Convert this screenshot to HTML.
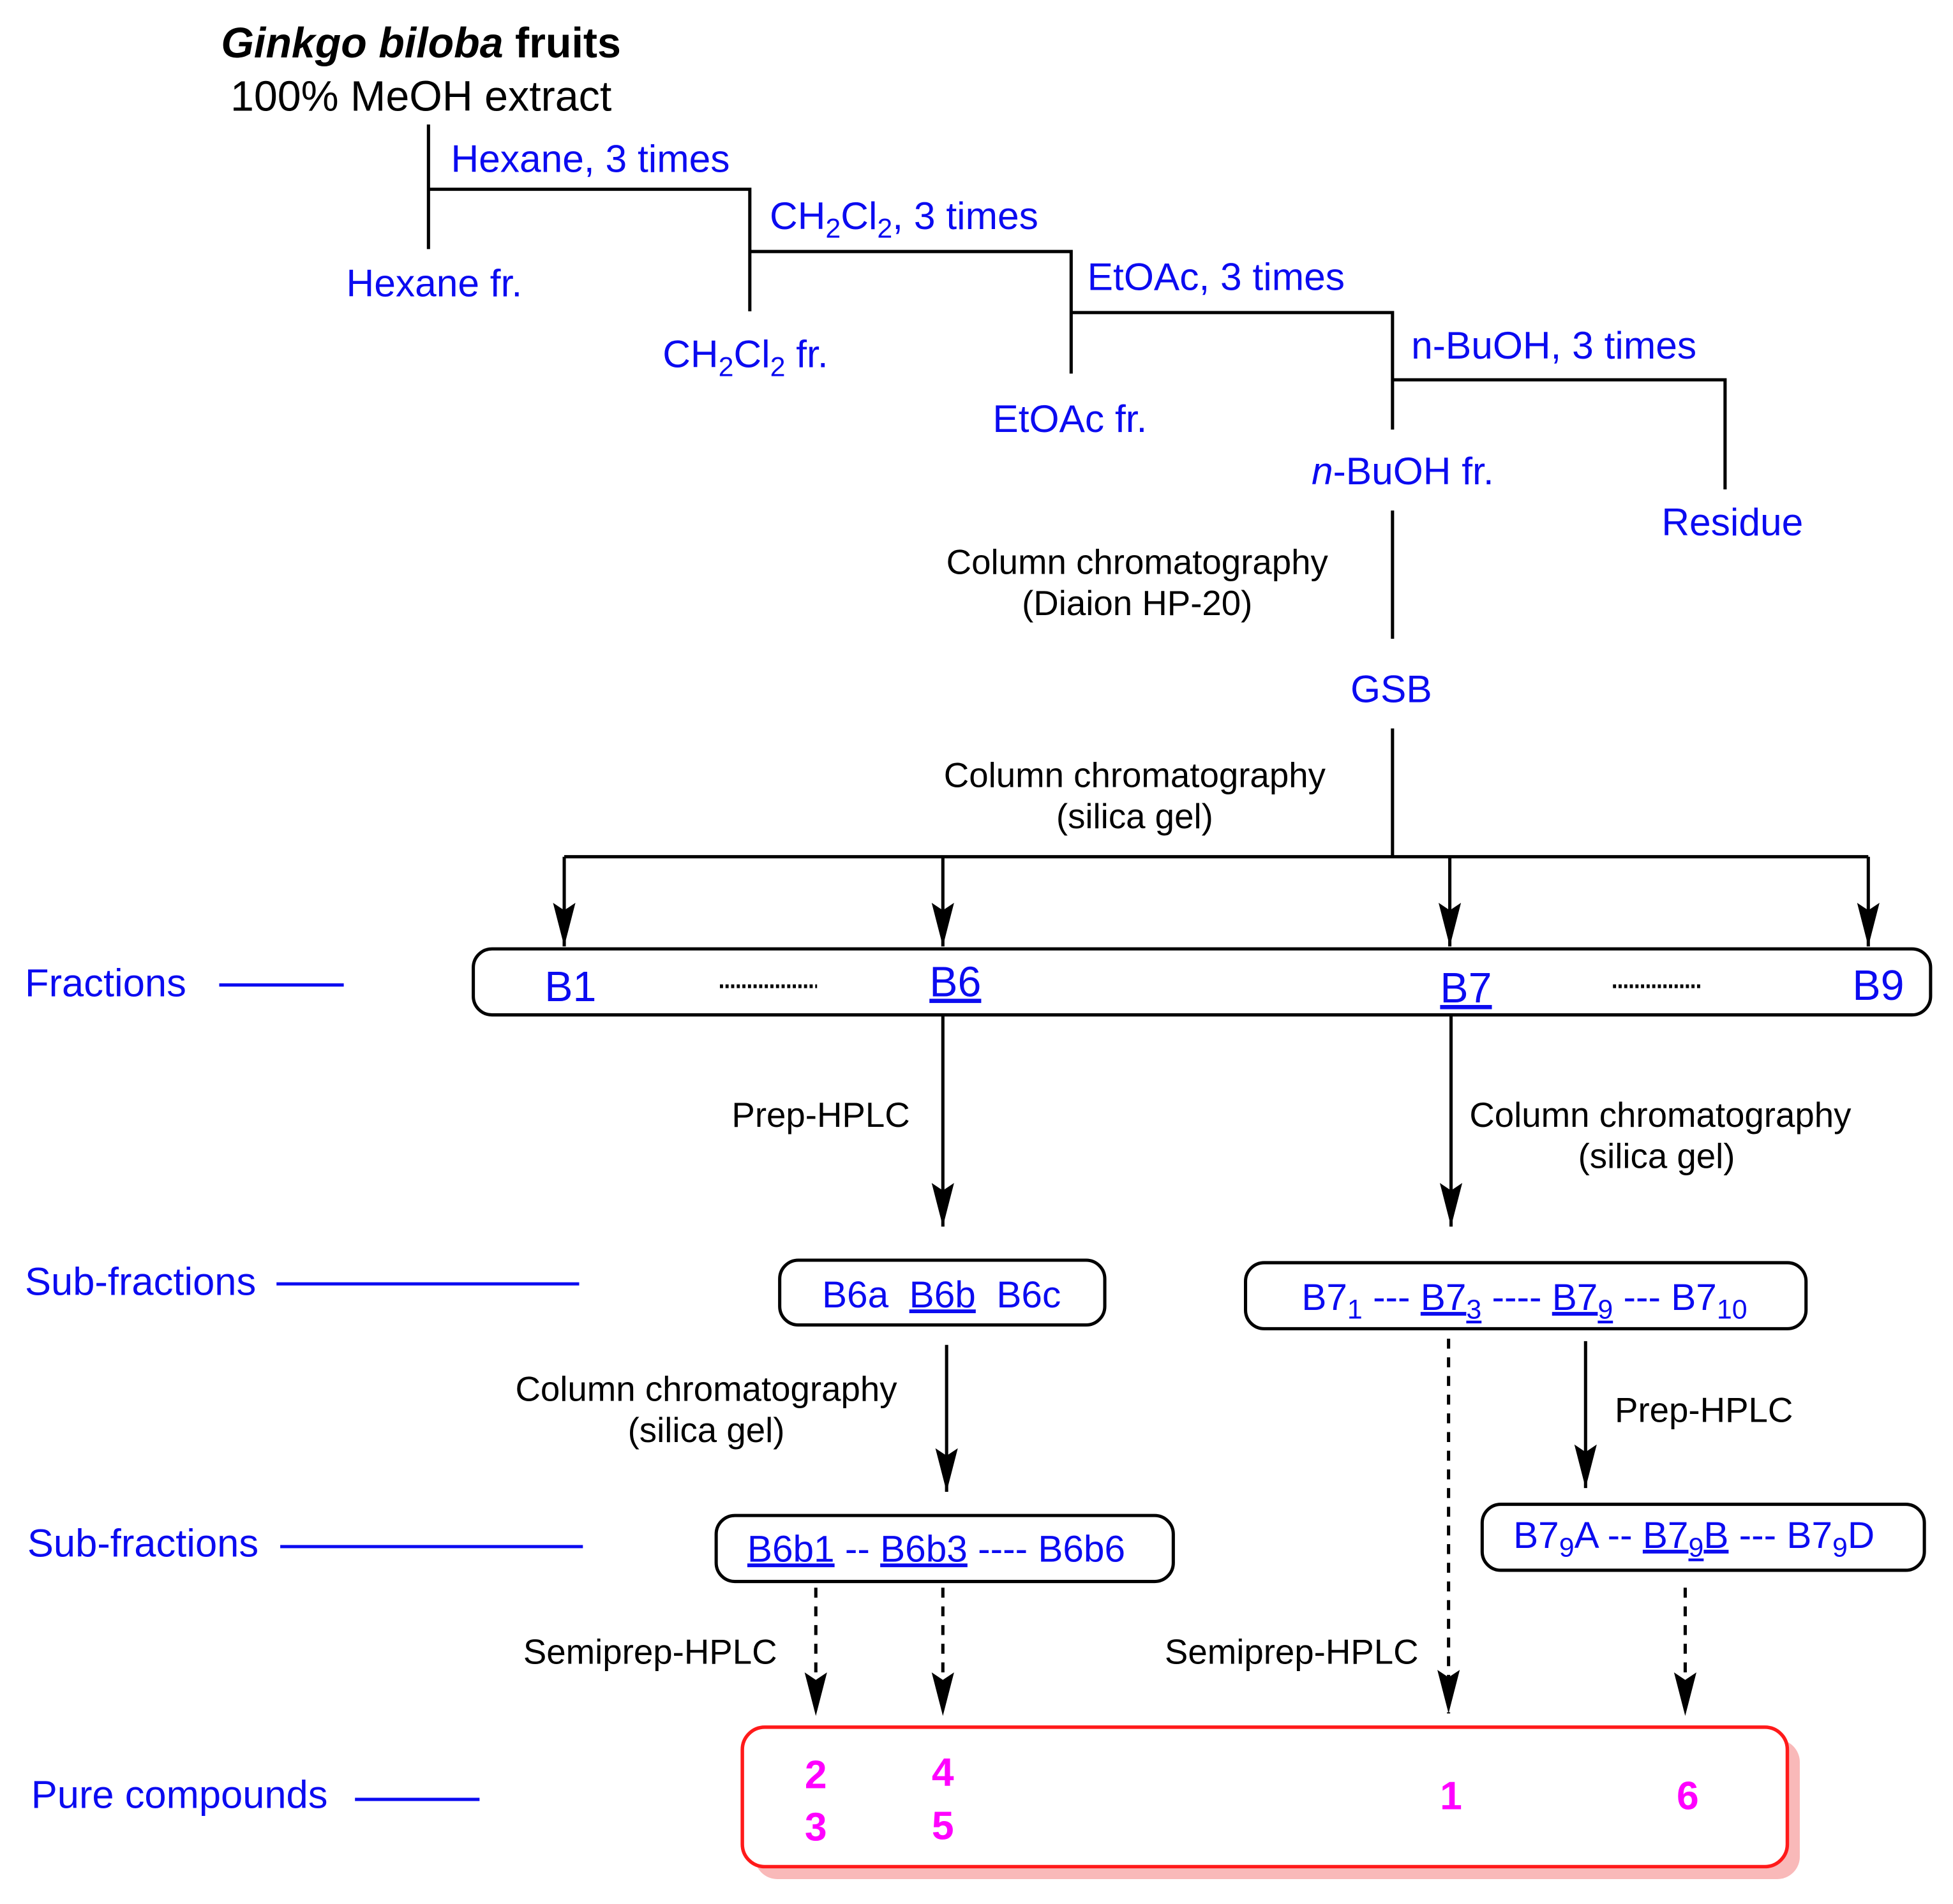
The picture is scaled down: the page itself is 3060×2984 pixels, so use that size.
<!DOCTYPE html>
<html><head><meta charset="utf-8"><style>
html,body{margin:0;padding:0;background:#fff;}
svg{display:block;}
text{font-family:"Liberation Sans",Arial,sans-serif;white-space:pre;}
.b{fill:#0b0bf0;font-size:31px;}
.k{fill:#000;font-size:28px;}
.f{fill:#0b0bf0;font-size:34px;}
.s{fill:#0b0bf0;font-size:30px;}
.lab{fill:#0b0bf0;font-size:31.5px;}
.m{fill:#ff00ff;font-size:32px;font-weight:bold;}
.ln{stroke:#000;stroke-width:2.6;fill:none;}
.bl{stroke:#0b0bf0;stroke-width:2.6;}
.dash{stroke:#000;stroke-width:2.6;stroke-dasharray:8,7;fill:none;}
</style></head><body>
<svg width="3060" height="2984" viewBox="0 0 1568 1529" preserveAspectRatio="none" xmlns="http://www.w3.org/2000/svg">
<defs>
<marker id="ah2" viewBox="0 0 20 36" markerWidth="20" markerHeight="36" refX="10" refY="35" orient="0" markerUnits="userSpaceOnUse"><path d="M1,0 L10,6 L19,0 L10,35 Z" fill="#000"/></marker>
</defs>
<text x="338" y="46" text-anchor="middle" style="font-size:34px;font-weight:bold"><tspan font-style="italic">Ginkgo biloba</tspan> fruits</text>
<text x="338" y="89" text-anchor="middle" style="font-size:34px">100% MeOH extract</text>

<path class="ln" d="M344,100 V200 M344,152 H602 V250 M602,202 H860 V300 M860,251 H1118 V345 M1118,305 H1385 V393"/>
<text class="b" x="362" y="138">Hexane, 3 times</text>
<text class="b" x="278" y="238">Hexane fr.</text>
<text class="b" x="618" y="184">CH<tspan font-size="22" dy="7">2</tspan><tspan dy="-7">Cl</tspan><tspan font-size="22" dy="7">2</tspan><tspan dy="-7">, 3 times</tspan></text>
<text class="b" x="532" y="295">CH<tspan font-size="22" dy="7">2</tspan><tspan dy="-7">Cl</tspan><tspan font-size="22" dy="7">2</tspan><tspan dy="-7"> fr.</tspan></text>
<text class="b" x="873" y="233">EtOAc, 3 times</text>
<text class="b" x="797" y="347">EtOAc fr.</text>
<text class="b" x="1133" y="288">n-BuOH, 3 times</text>
<text class="b" x="1053" y="389"><tspan font-style="italic">n</tspan>-BuOH fr.</text>
<text class="b" x="1334" y="430">Residue</text>

<path class="ln" d="M1118,410 V513 M1118,585 V688 M453,688 H1500"/>
<text class="k" x="913" y="461" text-anchor="middle">Column chromatography</text>
<text class="k" x="913" y="494" text-anchor="middle">(Diaion HP-20)</text>
<text class="b" x="1117" y="564" text-anchor="middle">GSB</text>
<text class="k" x="911" y="632" text-anchor="middle">Column chromatography</text>
<text class="k" x="911" y="665" text-anchor="middle">(silica gel)</text>

<path class="ln" d="M453,688 V760" marker-end="url(#ah2)"/>
<path class="ln" d="M757,688 V760" marker-end="url(#ah2)"/>
<path class="ln" d="M1164,688 V760" marker-end="url(#ah2)"/>
<path class="ln" d="M1500,688 V760" marker-end="url(#ah2)"/>

<rect class="ln" x="380" y="762" width="1170" height="53" rx="15"/>
<text class="f" x="458" y="804" text-anchor="middle">B1</text>
<line x1="578" y1="792" x2="656" y2="792" stroke="#000" stroke-width="3" stroke-dasharray="2.5,2"/>
<text class="f" x="767" y="800" text-anchor="middle" text-decoration="underline">B6</text>
<text class="f" x="1177" y="805" text-anchor="middle" text-decoration="underline">B7</text>
<line x1="1295" y1="792" x2="1365" y2="792" stroke="#000" stroke-width="3" stroke-dasharray="2.5,2"/>
<text class="f" x="1508" y="803" text-anchor="middle">B9</text>

<text class="lab" x="20" y="800">Fractions</text>
<line class="bl" x1="176" y1="791" x2="276" y2="791"/>

<path class="ln" d="M757,815 V985" marker-end="url(#ah2)"/>
<text class="k" x="659" y="905" text-anchor="middle">Prep-HPLC</text>
<path class="ln" d="M1165,815 V985" marker-end="url(#ah2)"/>
<text class="k" x="1333" y="905" text-anchor="middle">Column chromatography</text>
<text class="k" x="1330" y="938" text-anchor="middle">(silica gel)</text>

<text class="lab" x="20" y="1040">Sub-fractions</text>
<line class="bl" x1="222" y1="1031" x2="465" y2="1031"/>
<rect class="ln" x="626" y="1012" width="261" height="52" rx="15"/>
<text class="s" x="660" y="1050">B6a  <tspan text-decoration="underline">B6b</tspan>  B6c</text>
<rect class="ln" x="1000" y="1014" width="450" height="53" rx="15"/>
<text class="s" x="1045" y="1052">B7<tspan font-size="22" dy="7">1</tspan><tspan dy="-7"> --- </tspan><tspan text-decoration="underline">B7</tspan><tspan font-size="22" dy="7" text-decoration="underline">3</tspan><tspan dy="-7"> ---- </tspan><tspan text-decoration="underline">B7</tspan><tspan font-size="22" dy="7" text-decoration="underline">9</tspan><tspan dy="-7"> --- B7</tspan><tspan font-size="22" dy="7">10</tspan></text>

<path class="ln" d="M760,1080 V1198" marker-end="url(#ah2)"/>
<text class="k" x="567" y="1125" text-anchor="middle">Column chromatography</text>
<text class="k" x="567" y="1158" text-anchor="middle">(silica gel)</text>
<path class="dash" d="M1163,1075 V1376" marker-end="url(#ah2)"/>
<path class="ln" d="M1273,1077 V1195" marker-end="url(#ah2)"/>
<text class="k" x="1368" y="1142" text-anchor="middle">Prep-HPLC</text>

<text class="lab" x="22" y="1250">Sub-fractions</text>
<line class="bl" x1="225" y1="1242" x2="468" y2="1242"/>
<rect class="ln" x="575" y="1217" width="367" height="53" rx="15"/>
<text class="s" x="600" y="1254"><tspan text-decoration="underline">B6b1</tspan> -- <tspan text-decoration="underline">B6b3</tspan> ---- B6b6</text>
<rect class="ln" x="1190" y="1208" width="355" height="53" rx="15"/>
<text class="s" x="1215" y="1243">B7<tspan font-size="22" dy="7">9</tspan><tspan dy="-7">A -- </tspan><tspan text-decoration="underline">B7</tspan><tspan font-size="22" dy="7" text-decoration="underline">9</tspan><tspan dy="-7" text-decoration="underline">B</tspan><tspan> --- B7</tspan><tspan font-size="22" dy="7">9</tspan><tspan dy="-7">D</tspan></text>

<path class="dash" d="M655,1275 V1378" marker-end="url(#ah2)"/>
<path class="dash" d="M757,1275 V1378" marker-end="url(#ah2)"/>
<path class="dash" d="M1353,1275 V1378" marker-end="url(#ah2)"/>
<text class="k" x="522" y="1336" text-anchor="middle">Semiprep-HPLC</text>
<text class="k" x="1037" y="1336" text-anchor="middle">Semiprep-HPLC</text>

<text class="lab" x="25" y="1452">Pure compounds</text>
<line class="bl" x1="285" y1="1445" x2="385" y2="1445"/>
<rect x="606" y="1397" width="839" height="112" rx="18" fill="#f9b9b9"/>
<rect x="596" y="1387" width="839" height="112" rx="18" fill="#fff" stroke="#ff1a1a" stroke-width="2.8"/>
<text class="m" x="655" y="1436" text-anchor="middle">2</text>
<text class="m" x="655" y="1478" text-anchor="middle">3</text>
<text class="m" x="757" y="1434" text-anchor="middle">4</text>
<text class="m" x="757" y="1477" text-anchor="middle">5</text>
<text class="m" x="1165" y="1453" text-anchor="middle">1</text>
<text class="m" x="1355" y="1453" text-anchor="middle">6</text>
</svg>
</body></html>
